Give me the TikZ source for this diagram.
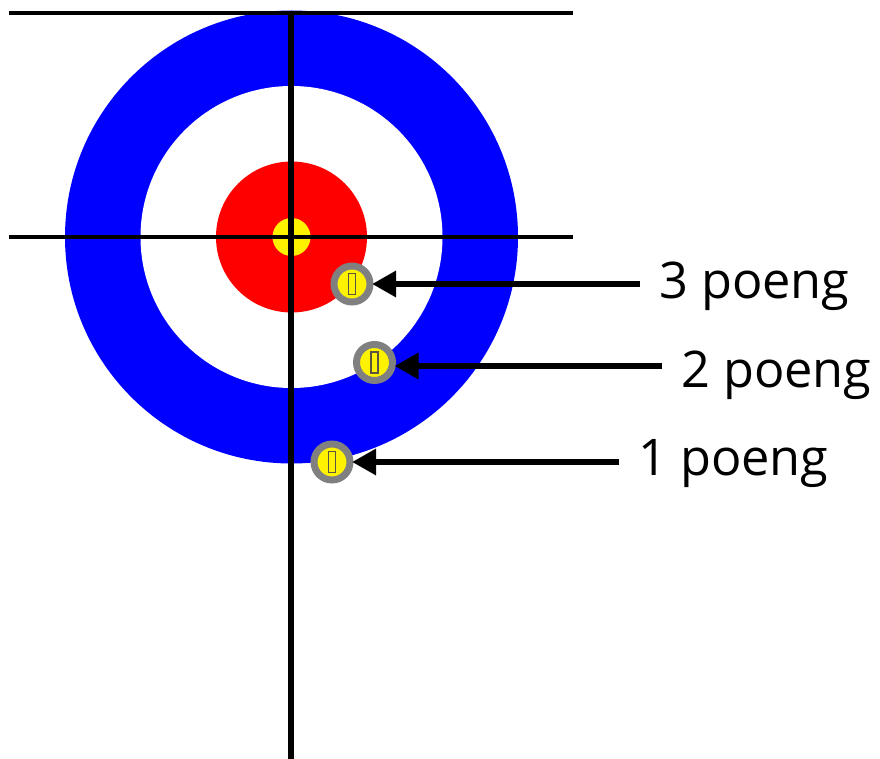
\documentclass[tikz,border=0pt]{standalone}
\usepackage{fontspec}
\setmainfont{Open Sans}
\usetikzlibrary{arrows.meta}
\definecolor{sheetblue}{RGB}{0,0,255}
\definecolor{stonegray}{RGB}{128,128,128}
\tikzset{
  x=1pt,y=-1pt,
  ring/.style={circle,inner sep=0pt,outer sep=0pt,minimum size=#1},
  stone/.style={circle,inner sep=0pt,outer sep=0pt,minimum size=36pt,fill=yellow,draw=stonegray,line width=7pt},
  handle/.style={rectangle,inner sep=0pt,outer sep=0pt,minimum width=7pt,minimum height=21pt,draw=black!75!yellow,line width=1.3pt},
  sheetline/.style={draw=black,line width=4pt},
  centerline/.style={draw=black,line width=5.5pt},
  pointer/.style={draw=black,line width=6.5pt,-{Triangle[length=24pt,width=25pt]},shorten >=2pt},
  lab/.style={anchor=base west,inner sep=0pt,font=\fontsize{50.5}{60}\selectfont}
}
\begin{document}
\begin{tikzpicture}
\useasboundingbox (0,0) rectangle (880,759);
\fill[white] (0,0) rectangle (880,759);
\node[ring=453pt,fill=sheetblue] (blue) at (291.5,237) {};
\node[ring=302pt,fill=white] (white) at (291.5,237) {};
\node[ring=151pt,fill=red] (red) at (291.5,237) {};
\node[ring=38pt,fill=yellow] (button) at (291.5,237) {};
\coordinate (tl) at (9,13);
\coordinate (tr) at (573,13);
\coordinate (ml) at (9,237);
\coordinate (mr) at (573,237);
\coordinate (vt) at (291,13);
\coordinate (vb) at (291,759);
\draw[sheetline] (tl) -- (tr);
\draw[sheetline] (ml) -- (mr);
\draw[centerline] (vt) -- (vb);
\node[stone] (s3) at (352,284) {};
\node[handle] (h3) at (352,284) {};
\node[stone] (s2) at (374.5,362.5) {};
\node[handle] (h2) at (374.5,362.5) {};
\node[stone] (s1) at (332,462) {};
\node[handle] (h1) at (332,462) {};
\node[lab] (l3) at (659,298) {3 poeng};
\node[lab] (l2) at (681,387) {2 poeng};
\node[lab] (l1) at (638,475) {1 poeng};
\coordinate (a3) at (640,284);
\coordinate (a2) at (662,366);
\coordinate (a1) at (619,462);
\draw[pointer] (a3) -- (a3 -| s3.east);
\draw[pointer] (a2) -- (a2 -| s2.east);
\draw[pointer] (a1) -- (a1 -| s1.east);
\end{tikzpicture}
\end{document}
